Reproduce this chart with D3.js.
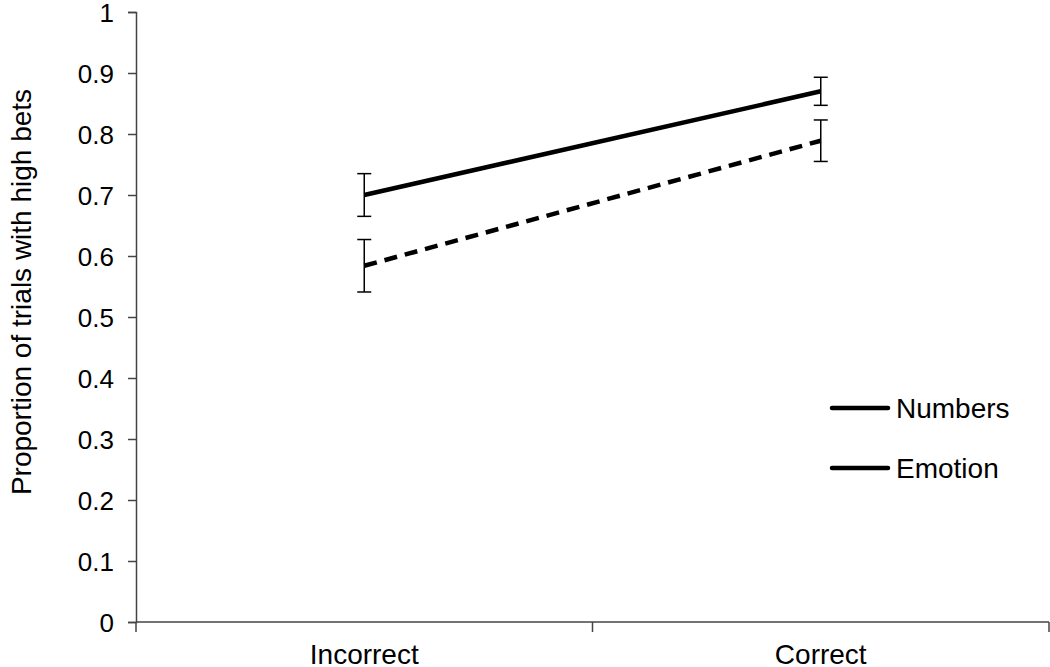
<!DOCTYPE html>
<html>
<head>
<meta charset="utf-8">
<script src="https://cdn.jsdelivr.net/npm/d3@7"></script>
<style>
  body { margin: 0; background: #fff; }
  text { font-family: "Liberation Sans", Arial, sans-serif; fill: #000; }
</style>
</head>
<body>
<script>
// chart data
var categories = ["Incorrect", "Correct"];
var seriesNames = ["Numbers", "Emotion"];
var numbersMean = [0.700, 0.870];
var numbersErr = [0.035, 0.023];
var emotionMean = [0.584, 0.789];
var emotionErr = [0.043, 0.034];
var yTicks = [0, 0.1, 0.2, 0.3, 0.4, 0.5, 0.6, 0.7, 0.8, 0.9, 1];

var width = 1050;
var height = 667;
var margin = {left: 136, right: 1, top: 12, bottom: 45};

var svg = d3.select("body").append("svg")
    .attr("width", width)
    .attr("height", height);

var x = d3.scaleBand()
    .domain(categories)
    .range([margin.left, width - margin.right]);

var y = d3.scaleLinear()
    .domain([0, 1])
    .range([height - margin.bottom, margin.top]);

// y axis
var yAxis = svg.append("g")
    .attr("transform", "translate(" + margin.left + ",0)")
    .call(d3.axisLeft(y).tickValues(yTicks).tickSize(8).tickPadding(14)
      .tickFormat(function(d){ return d === 0 || d === 1 ? d : d3.format(".1f")(d); }));
yAxis.select(".domain").attr("stroke", "#444").attr("stroke-width", 1.5);
yAxis.selectAll(".tick line").attr("stroke", "#444").attr("stroke-width", 1.5);
yAxis.selectAll("text").style("font-size", "26px").attr("dy", "0.36em");

// x axis with ticks at band edges
var xAxis = svg.append("g")
    .attr("transform", "translate(0," + y(0) + ")");
xAxis.append("line")
    .attr("x1", margin.left).attr("x2", width - margin.right)
    .attr("stroke", "#444").attr("stroke-width", 1.5);
var edges = categories.map(function(c){ return x(c); }).concat([x(categories[categories.length-1]) + x.bandwidth()]);
xAxis.selectAll(".edge").data(edges).enter().append("line")
    .attr("x1", function(d){ return d; }).attr("x2", function(d){ return d; })
    .attr("y1", 0).attr("y2", 10)
    .attr("stroke", "#444").attr("stroke-width", 1.5);
xAxis.selectAll(".cat").data(categories).enter().append("text")
    .attr("x", function(d){ return x(d) + x.bandwidth()/2; })
    .attr("y", 42)
    .attr("text-anchor", "middle")
    .style("font-size", "28px")
    .text(function(d){ return d; });

// y label
svg.append("text")
    .attr("transform", "translate(31,292) rotate(-90)")
    .attr("text-anchor", "middle")
    .style("font-size", "28px")
    .text("Proportion of trials with high bets");

var series = [
  {name: seriesNames[0], mean: numbersMean, err: numbersErr, dash: null},
  {name: seriesNames[1], mean: emotionMean, err: emotionErr, dash: "13,8"}
];

var cx = function(i){ return x(categories[i]) + x.bandwidth()/2; };

series.forEach(function(s){
  // error bars
  var g = svg.append("g");
  s.mean.forEach(function(m, i){
    var top = y(m + s.err[i]), bot = y(m - s.err[i]);
    g.append("line").attr("x1", cx(i)).attr("x2", cx(i)).attr("y1", top).attr("y2", bot)
      .attr("stroke", "#000").attr("stroke-width", 1.5);
    [top, bot].forEach(function(yy){
      g.append("line").attr("x1", cx(i) - 7).attr("x2", cx(i) + 7).attr("y1", yy).attr("y2", yy)
        .attr("stroke", "#000").attr("stroke-width", 1.5);
    });
  });
  var line = d3.line()
    .x(function(d, i){ return cx(i); })
    .y(function(d){ return y(d); });
  svg.append("path")
    .datum(s.mean)
    .attr("d", line)
    .attr("fill", "none")
    .attr("stroke", "#000")
    .attr("stroke-width", 4.5)
    .attr("stroke-dasharray", s.dash);
});

// legend (both drawn solid as in the original)
var legend = svg.append("g").attr("transform", "translate(832,408)");
seriesNames.forEach(function(n, i){
  legend.append("line")
    .attr("x1", 0).attr("x2", 56).attr("y1", i*60).attr("y2", i*60)
    .attr("stroke", "#000").attr("stroke-width", 4.5).attr("stroke-linecap", "round");
  legend.append("text")
    .attr("x", 64).attr("y", i*60 + 10)
    .style("font-size", "28px")
    .text(n);
});
</script>
</body>
</html>
